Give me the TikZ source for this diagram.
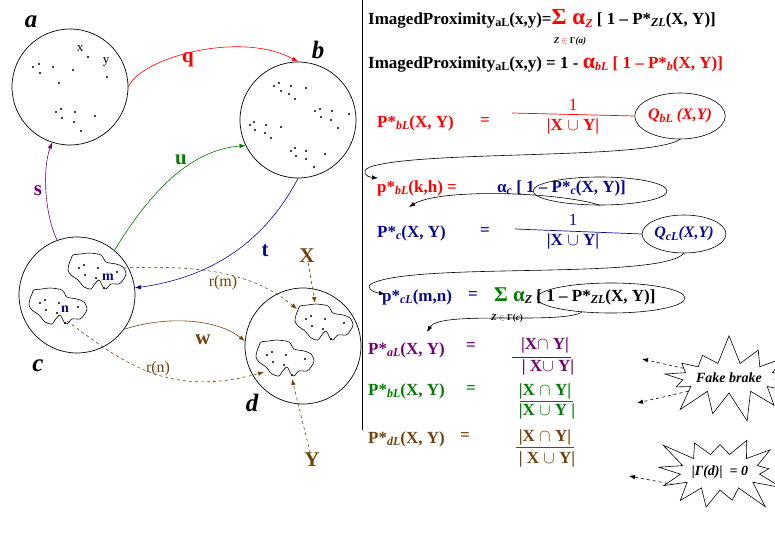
\documentclass[tikz,border=0pt]{standalone}
\usepackage{fontspec}
\setmainfont{Liberation Serif}
\usetikzlibrary{arrows.meta,shapes.geometric,shapes.symbols}

\definecolor{navyblue}{RGB}{10,10,140}
\definecolor{leafgreen}{RGB}{0,125,0}
\definecolor{plum}{RGB}{115,0,115}
\definecolor{earth}{RGB}{115,65,10}

\newcommand{\lowidx}[1]{\raisebox{-0.3ex}{\fontsize{12}{12}\selectfont #1}}

\tikzset{
  ring/.style={circle,draw,line width=0.7pt,minimum size=116pt,inner sep=0pt},
  setname/.style={font=\fontsize{25}{25}\selectfont\bfseries\itshape,inner sep=0pt},
  edgename/.style={font=\fontsize{21}{21}\selectfont\bfseries,inner sep=0pt},
  tip/.style={-{Latex[length=6pt,width=4.5pt]}},
  dashtip/.style={dashed,-{Latex[length=6pt,width=4.5pt]}},
  headline/.style={anchor=west,inner sep=0pt,font=\fontsize{17}{19}\selectfont\bfseries},
  eqtext/.style={anchor=west,inner sep=0pt,font=\fontsize{17}{19}\selectfont\bfseries},
  frac/.style={inner sep=0pt,font=\fontsize{17}{19}\selectfont\bfseries},
  tinytext/.style={inner sep=0pt,font=\fontsize{9}{10}\selectfont\bfseries},
  loopy/.style={ellipse,draw=black,line width=0.6pt,inner sep=0pt},
  burst/.style={starburst,draw,line width=0.6pt,starburst points=13,starburst point height=30pt,
    random starburst=7,inner sep=0pt,font=\fontsize{14}{16}\selectfont\bfseries\itshape},
  pics/blob/.style={code={
    \draw[line width=0.6pt] plot[smooth cycle,tension=0.5] coordinates {(7,3) (15,2) (23,1) (35,3)
      (40,10) (50,12) (57,15) (60,22) (57,28) (53,32) (45,32) (40,37) (37,35) (33,28) (28,33)
      (25,37) (18,35) (12,28) (5,23) (2,18) (3,12) (5,7)};
    \foreach \p in {(13,16),(18,13),(19,23),(32,16),(30,26),(51,20),(38,36)}
      \fill \p circle (1.1pt);
    \coordinate (-e) at (58,16);
    \coordinate (-nw) at (4,6);
    \coordinate (-n) at (22,0);
    \coordinate (-s) at (40,34);
    \coordinate (-sw) at (10,33);
    \coordinate (-b) at (38,40);
  }}
}

\begin{document}
\begin{tikzpicture}[x=1pt,y=-1pt]
\useasboundingbox (0,0) rectangle (775,537);

% the four sets
\node[ring] (a) at (70,87) {};
\node[ring] (b) at (298,120) {};
\node[ring] (c) at (77,295) {};
\node[ring] (d) at (303,346) {};
\node[setname] (la) at (31,22) {a};
\node[setname] (lb) at (318,50) {b};
\node[setname] (lc) at (38,366) {c};
\node[setname] (ld) at (252,403) {d};

% points in a and b
\foreach \p in {(33,67),(39,64),(40,73),(53,67),(73,70),(59,83),(88,57),(107,77),
  (56,112),(61,109),(62,118),(75,112),(74,122),(95,116),(81,131)}
  \fill \p circle (1.1pt);
\node[font=\fontsize{13}{13}\selectfont] (lx) at (80,49) {x};
\node[font=\fontsize{13}{13}\selectfont] (ly) at (106,62) {y};
\foreach \p in {(274,86),(279,83),(281,91),(291,86),(289,94),(306,88),(295,99),
  (315,111),(320,109),(321,117),(332,111),(331,120),(349,114),(338,128),
  (250,125),(254,122),(255,130),(266,125),(265,133),(281,127),(271,138),
  (291,151),(295,148),(296,156),(306,151),(306,159),(325,154),(314,167)}
  \fill \p circle (1.1pt);

% clusters in c and d
\pic (bm) at (66,252) {blob};
\pic (bn) at (27,287) {blob};
\pic (bx) at (293,303) {blob};
\pic (by) at (254,339) {blob};
\node[font=\fontsize{14}{14}\selectfont\bfseries,text=navyblue] (lm) at (108,277) {m};
\node[font=\fontsize{14}{14}\selectfont\bfseries,text=navyblue] (ln) at (65,309) {n};

% links between sets
\draw[red,tip,line width=0.6pt] (a.east) .. controls (140,58) and (240,30) .. (b.north);
\node[edgename,red] (lq) at (188,60) {q};
\draw[leafgreen,tip,line width=0.6pt] (c.50) .. controls (150,192) and (190,150) .. (b.206);
\node[edgename,leafgreen] (lu) at (181,160) {u};
\draw[plum,tip,line width=0.6pt] (c.110) .. controls (45,215) and (42,170) .. (a.252);
\node[edgename,plum] (ls) at (38,191) {s};
\draw[navyblue,tip,line width=0.6pt] (b.south) .. controls (270,232) and (222,276) .. (c.7);
\node[edgename,navyblue] (lt) at (265,251) {t};
\draw[earth,tip,line width=0.6pt] (c.-36) .. controls (165,316) and (215,318) .. (d.175);
\node[edgename,earth] (lw) at (203,340) {w};
\draw[earth,dashtip,line width=0.6pt] (bm-e) .. controls (200,265) and (252,272) .. (bx-nw);
\node[font=\fontsize{16}{16}\selectfont,text=earth] (lrm) at (223,283) {r(m)};
\draw[earth,dashtip,line width=0.6pt] (bn-s) .. controls (118,358) and (165,400) .. (by-sw);
\node[font=\fontsize{16}{16}\selectfont,text=earth] (lrn) at (158,369) {r(n)};
\node[edgename,earth] (nx) at (307,256) {X};
\node[edgename,earth] (ny) at (312,460) {Y};
\draw[earth,dashtip,line width=0.6pt] (nx) -- (bx-n);
\draw[earth,dashtip,line width=0.6pt] (ny) -- (by-b);

% divider
\draw[line width=0.7pt] (362,0) -- (362,430);

% imaged proximity
\node[headline] (ip1) at (368,19) {ImagedProximity\lowidx{aL}(x,y)={\color{red}\fontsize{23}{23}\selectfont Σ α\lowidx{\textit{Z}}} [ 1 – P*\lowidx{\textit{ZL}}(X, Y)]};
\node[tinytext] (ip1z) at (570,41) {\textit{Z} {\color{red}$\in$} Γ\textit{(a)}};
\node[headline] (ip2) at (368,64) {ImagedProximity\lowidx{aL}(x,y) = 1 - {\color{red}{\fontsize{22}{22}\selectfont α}\lowidx{\textit{bL}} [ 1 – P*\lowidx{\textit{b}}(X, Y)]}};

% P*_bL
\node[eqtext,red] (pb) at (377,123) {P*\lowidx{\textit{bL}}(X, Y)};
\node[eqtext,red] (pbeq) at (480,122) {=};
\node[frac,red,font=\fontsize{17}{19}\selectfont] (pbnum) at (573,105) {1};
\node[frac,red] (pbden) at (573,126) {|X $\cup$ Y|};
\node[loopy,minimum width=78pt,minimum height=46pt,text=red,font=\fontsize{16}{18}\selectfont\bfseries\itshape] (qb) at (680,116) {Q\lowidx{bL} (X,Y)};
\draw[red,line width=0.7pt] (512,113) -- (qb.west);
\draw[tip,line width=0.6pt] (qb.south) .. controls (650,160) and (420,150) .. (370,167) .. controls (360,171) and (366,177) .. (378,178);

% p*_bL(k,h)
\node[eqtext,red] (pbkh) at (377,188) {p*\lowidx{\textit{bL}}(k,h) =};
\node[eqtext,navyblue] (alc) at (497,188) {α\lowidx{\textit{c}} [ 1 – P*\lowidx{\textit{c}}(X, Y)]};
\node[loopy,minimum width=134pt,minimum height=28pt] (ec) at (600,191) {};
\draw[tip,line width=0.6pt] (ec.south) .. controls (560,192) and (440,188) .. (409,207);

% P*_c
\node[eqtext,navyblue] (pc) at (377,233) {P*\lowidx{\textit{c}}(X, Y)};
\node[eqtext,navyblue] (pceq) at (480,232) {=};
\node[frac,navyblue,font=\fontsize{17}{19}\selectfont] (pcnum) at (573,220) {1};
\node[frac,navyblue] (pcden) at (573,241) {|X $\cup$ Y|};
\node[loopy,minimum width=78pt,minimum height=38pt,text=navyblue,font=\fontsize{16}{18}\selectfont\bfseries\itshape] (qc) at (684,234) {Q\lowidx{cL}(X,Y)};
\draw[navyblue,line width=0.7pt] (515,229) -- (qc.west);
\draw[tip,line width=0.6pt] (qc.south) .. controls (660,280) and (420,262) .. (373,283) .. controls (364,287) and (372,292) .. (385,294);

% p*_cL(m,n)
\node[eqtext,navyblue] (pcmn) at (382,297) {p*\lowidx{\textit{cL}}(m,n)};
\node[eqtext,navyblue] (pcmneq) at (468,296) {=};
\node[eqtext] (sumz) at (494,296) {{\color{leafgreen}\fontsize{21}{21}\selectfont Σ α}\lowidx{\textit{Z}} [ 1 – P*\lowidx{\textit{ZL}}(X, Y)]};
\node[tinytext] (sumzz) at (507,318) {\textit{Z} {\color{leafgreen}$\in$} Γ(\textit{c})};
\node[loopy,minimum width=148pt,minimum height=30pt] (ez) at (611,298) {};
\draw[tip,line width=0.6pt] (ez.206) .. controls (560,325) and (440,310) .. (427,332);

% P*_aL, P*_bL, P*_dL
\node[eqtext,plum] (pa) at (368,350) {P*\lowidx{\textit{aL}}(X, Y)};
\node[eqtext,plum] (paeq) at (466,347) {=};
\node[frac,plum] (panum) at (545,345) {|X$\cap$ Y|};
\node[frac,plum] (paden) at (548,367) {| X$\cup$ Y|};
\draw[plum,line width=1pt] (512,357) -- (571,357);

\node[eqtext,leafgreen] (pg) at (368,391) {P*\lowidx{\textit{bL}}(X, Y)};
\node[eqtext,leafgreen] (pgeq) at (466,390) {=};
\node[frac,leafgreen] (pgnum) at (545,391) {|X $\cap$ Y|};
\node[frac,leafgreen] (pgden) at (547,411) {|X $\cup$ Y |};
\draw[leafgreen,line width=0.7pt] (520,401) -- (573,401);

\node[eqtext,earth] (pd) at (368,439) {P*\lowidx{\textit{dL}}(X, Y)};
\node[eqtext,earth] (pdeq) at (460,437) {=};
\node[frac,earth] (pdnum) at (545,437) {|X $\cap$ Y|};
\node[frac,earth] (pdden) at (547,459) {| X $\cup$ Y|};
\draw[earth,line width=1pt] (516,447) -- (574,447);

% remarks
\node[burst,minimum width=110pt,minimum height=90pt] (fake) at (729,378) {Fake brake};
\node[burst,minimum width=122pt,minimum height=96pt,random starburst=3] (gam) at (720,472) {|Γ(d)| \ = 0};
\draw[dashtip,line width=0.6pt] (fake.168) -- (642,359);
\draw[dashtip,line width=0.6pt] (fake.198) -- (637,403);
\draw[dashtip,line width=0.6pt] (gam.195) -- (629,476);
\end{tikzpicture}
\end{document}
